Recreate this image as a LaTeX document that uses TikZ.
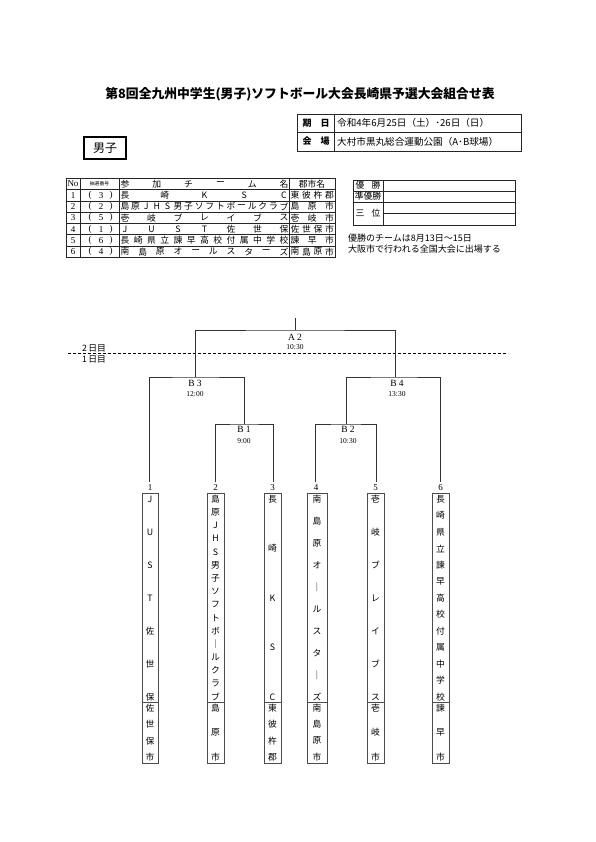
\documentclass[tikz,border=0pt]{standalone}
\usepackage{fontspec}
\setmainfont{Liberation Serif}
\newfontfamily\jp{Noto Sans CJK JP}
\newcommand\fsz[1]{\fontsize{#1}{#1}\selectfont}
% vertical distributed text: name, x, ytop, ybot, n, list
\newcommand\vdist[6]{%
  \foreach \c [count=\i from 0] in {#6} {\node[chr] (#1\i) at (#2,{#3+\i*(#4-#3)/(#5-1)}) {\c};}}
% horizontal distributed text: name, x1, x2, y, n, list
\newcommand\hdist[6]{%
  \foreach \c [count=\i from 0] in {#6} {\node[chr] (#1\i) at ({#2+\i*(#3-#2)/(#5-1)},#4) {\c};}}
\tikzset{
  chr/.style={inner sep=0pt, font=\jp\fsz{8.8}},
  lbl/.style={inner sep=0pt, font=\fsz{9}},
  tm/.style={inner sep=0pt, font=\fsz{7.5}},
  brk/.style={line width=0.8pt, draw=black!80},
  frame/.style={line width=0.7pt, draw=black!85},
  tbox/.style={line width=0.8pt, draw=black!70},
}
\begin{document}
\begin{tikzpicture}[x=1pt,y=-1pt]
\useasboundingbox (0,0) rectangle (595,842);
% title
\node[inner sep=0pt, font=\jp\bfseries\fsz{12.8}] (title) at (300,94) {第8回全九州中学生(男子)ソフトボール大会長崎県予選大会組合せ表};
% info box
\draw[frame] (297,114) rectangle (521,151);
\draw[frame] (297,132) -- (521,132);
\draw[frame] (334,114) -- (334,151);
\node[chr, font=\jp\bfseries\fsz{9}] (kijitsu) at (316,123) {期　日};
\node[chr, font=\jp\bfseries\fsz{9}] (kaijo) at (316,141.5) {会　場};
\node[chr, anchor=west, font=\jp\fsz{9.6}] (date) at (337,123) {令和4年6月25日（土）･26日（日）};
\node[chr, anchor=west, font=\jp\fsz{9.6}] (venue) at (337,141.5) {大村市黒丸総合運動公園（A･B球場）};
% boys box
\draw[line width=1.5pt] (84,137) rectangle (126,159);
\node[inner sep=0pt, font=\jp\fsz{12}] (danshi) at (105,148) {男子};
% team table
\draw[frame] (66,178.5) rectangle (335,257.3);
\foreach \k in {1,...,5} \draw[frame, line width=0.5pt] (66,{189.5+\k*11.3}) -- (335,{189.5+\k*11.3});
\draw[frame, line width=1pt] (66,189.5) -- (335,189.5);
\foreach \xx in {80,119,289} \draw[frame, line width=0.5pt] (\xx,178.5) -- (\xx,257.3);
\node[lbl] (hno) at (73,184) {No};
\node[chr, font=\jp\fsz{4.8}] (hlot) at (99.5,184) {抽選番号};
\hdist{hteam}{125}{284}{184}{6}{参,加,チ,ー,ム,名}
\node[chr] (hcity) at (312,184) {郡市名};
\foreach \n/\l [count=\k from 0] in {1/3,2/2,3/5,4/1,5/6,6/4} {
  \node[lbl] (rn\n) at (73,{195.15+\k*11.3}) {\n};
  \node[lbl] (rpl\n) at (90,{195.15+\k*11.3}) {(};
  \node[lbl] (rl\n) at (101,{195.15+\k*11.3}) {\l};
  \node[lbl] (rpr\n) at (111,{195.15+\k*11.3}) {)};
}
\hdist{ra}{125}{284}{195.15}{5}{長,崎,K,S,C}
\hdist{rb}{125}{284}{206.45}{16}{島,原,J,H,S,男,子,ソ,フ,ト,ボ,ー,ル,ク,ラ,ブ}
\hdist{rc}{125}{284}{217.75}{7}{壱,岐,ブ,レ,イ,ブ,ス}
\hdist{rd}{125}{284}{229.05}{7}{J,U,S,T,佐,世,保}
\hdist{re}{125}{284}{240.35}{13}{長,崎,県,立,諫,早,高,校,付,属,中,学,校}
\hdist{rf}{125}{284}{251.65}{10}{南,島,原,オ,ー,ル,ス,タ,ー,ズ}
\hdist{ca}{295}{329.5}{195.15}{4}{東,彼,杵,郡}
\hdist{cb}{295}{329.5}{206.45}{3}{島,原,市}
\hdist{cc}{295}{329.5}{217.75}{3}{壱,岐,市}
\hdist{cd}{295}{329.5}{229.05}{4}{佐,世,保,市}
\hdist{ce}{295}{329.5}{240.35}{3}{諫,早,市}
\hdist{cf}{295}{329.5}{251.65}{4}{南,島,原,市}
% result table
\draw[frame] (353,180) rectangle (515,225);
\draw[frame] (383,180) -- (383,225);
\draw[frame] (353,191) -- (515,191);
\draw[frame] (353,202) -- (515,202);
\draw[frame, line width=1pt] (383,213.5) -- (515,213.5);
\hdist{win}{360}{376}{185.5}{2}{優,勝}
\node[chr] (runner) at (368,196.5) {準優勝};
\hdist{third}{360}{376}{213.5}{2}{三,位}
\node[chr, anchor=west, font=\jp\fsz{9}] (note1) at (348,238) {優勝のチームは8月13日～15日};
\node[chr, anchor=west, font=\jp\fsz{9}] (note2) at (348,249) {大阪市で行われる全国大会に出場する};
% day divider
\draw[dashed, dash pattern=on 3pt off 2pt, line width=0.7pt] (68,353.5) -- (508,353.5);
\node[chr] (day2) at (94,348) {2\,日目};
\node[chr] (day1) at (94,359) {1\,日目};
% bracket coordinates
\coordinate (top) at (295,318);
\coordinate (a2) at (295,330);
\coordinate (b3) at (195,377);
\coordinate (b4) at (395,377);
\coordinate (b1) at (244,424);
\coordinate (b2) at (346,424);
\coordinate (t1) at (149.5,482);
\coordinate (t2) at (215,482);
\coordinate (t3) at (273,482);
\coordinate (t4) at (315,482);
\coordinate (t5) at (376,482);
\coordinate (t6) at (440.5,482);
\draw[brk] (top) -- (a2);
\draw[brk] (b3) |- (a2) -| (b4);
\draw[brk] (t1) |- (b3) -| (b1);
\draw[brk] (b2) |- (b4) -| (t6);
\draw[brk] (t2) |- (b1) -| (t3);
\draw[brk] (t4) |- (b2) -| (t5);
\node[lbl, font=\fsz{9.5}] (la2) at (295,337.5) {A 2};
\node[tm] (ta2) at (295,347.5) {10:30};
\node[lbl, font=\fsz{9.5}] (lb3) at (195,383.5) {B 3};
\node[tm] (tb3) at (195,394.5) {12:00};
\node[lbl, font=\fsz{9.5}] (lb4) at (397,383.5) {B 4};
\node[tm] (tb4) at (397,394.5) {13:30};
\node[lbl, font=\fsz{9.5}] (lb1) at (244,429.5) {B 1};
\node[tm] (tb1) at (244,441.5) {9:00};
\node[lbl, font=\fsz{9.5}] (lb2) at (348,429.5) {B 2};
\node[tm] (tb2) at (348,441.5) {10:30};
% team numbers
\node[lbl] (n1) at (150,487.5) {1};
\node[lbl] (n2) at (215.5,487.5) {2};
\node[lbl] (n3) at (272.5,487.5) {3};
\node[lbl] (n4) at (316,487.5) {4};
\node[lbl] (n5) at (375.5,487.5) {5};
\node[lbl] (n6) at (440.5,487.5) {6};
% team boxes
\foreach \xa/\xb in {142/158,207/224,264/281,307/327,367/384,432/449} {
  \draw[tbox] (\xa,493) rectangle (\xb,763);
  \draw[tbox] (\xa,702) -- (\xb,702);
}
\vdist{va}{150}{499}{697}{7}{J,U,S,T,佐,世,保}
\vdist{vb}{215.5}{499}{697}{16}{島,原,J,H,S,男,子,ソ,フ,ト,ボ,｜,ル,ク,ラ,ブ}
\vdist{vc}{272.5}{499}{697}{5}{長,崎,K,S,C}
\vdist{vd}{317}{499}{697}{10}{南,島,原,オ,｜,ル,ス,タ,｜,ズ}
\vdist{ve}{375.5}{499}{697}{7}{壱,岐,ブ,レ,イ,ブ,ス}
\vdist{vf}{440.5}{499}{697}{13}{長,崎,県,立,諫,早,高,校,付,属,中,学,校}
\vdist{wa}{150}{708}{757}{4}{佐,世,保,市}
\vdist{wb}{215.5}{708}{757}{3}{島,原,市}
\vdist{wc}{272.5}{708}{757}{4}{東,彼,杵,郡}
\vdist{wd}{317}{708}{757}{4}{南,島,原,市}
\vdist{we}{375.5}{708}{757}{3}{壱,岐,市}
\vdist{wf}{440.5}{708}{757}{3}{諫,早,市}
\end{tikzpicture}
\end{document}
